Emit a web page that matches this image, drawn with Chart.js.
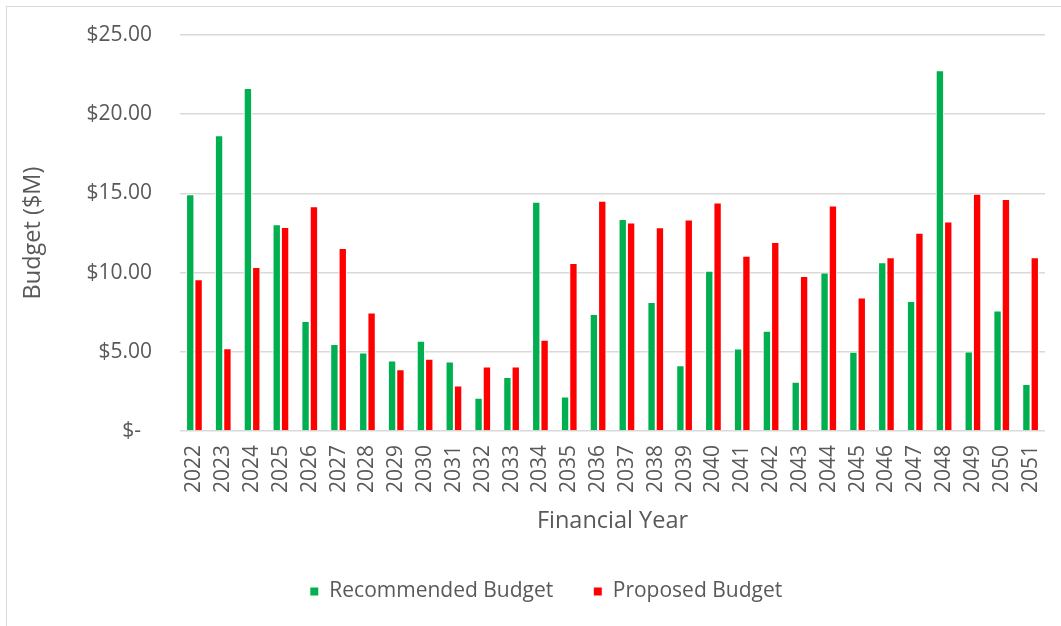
<!DOCTYPE html>
<html>
<head>
<meta charset="utf-8">
<script src="https://cdn.jsdelivr.net/npm/chart.js@4"></script>
<style>
    html, body { margin: 0; padding: 0; background: #fff; overflow: hidden; }
    #frame {
        position: absolute; left: 6px; top: 6px; width: 1100px; height: 700px;
        border-left: 1px solid #d9d9d9; border-top: 1px solid #d9d9d9;
    }
    #wrap { position: absolute; left: 0; top: 0; width: 1078px; height: 619px; }
</style>
</head>
<body>
<div id="frame"><div id="wrap"><canvas id="budget-chart"></canvas></div></div>
<script>
const years = ['2022', '2023', '2024', '2025', '2026', '2027', '2028', '2029', '2030', '2031',
    '2032', '2033', '2034', '2035', '2036', '2037', '2038', '2039', '2040', '2041',
    '2042', '2043', '2044', '2045', '2046', '2047', '2048', '2049', '2050', '2051'];
const recommended = [14.94, 18.67, 21.65, 13.05, 6.95, 5.49, 4.96, 4.45, 5.70, 4.39,
    2.10, 3.41, 14.47, 2.18, 7.39, 13.39, 8.14, 4.15, 10.11, 5.21,
    6.33, 3.11, 10.00, 5.00, 10.66, 8.20, 22.78, 5.02, 7.61, 2.97];
const proposed = [9.58, 5.23, 10.36, 12.88, 14.19, 11.55, 7.48, 3.90, 4.56, 2.88,
    4.07, 4.07, 5.76, 10.61, 14.53, 13.16, 12.86, 13.35, 14.43, 11.06,
    11.93, 9.79, 14.24, 8.43, 10.97, 12.52, 13.22, 14.98, 14.64, 10.97];
const yTicks = [0, 5, 10, 15, 20, 25];

const textColor = '#595959';
const fontFamily = "'Open Sans', sans-serif";

new Chart(document.getElementById('budget-chart'), {
    type: 'bar',
    data: {
        labels: years,
        datasets: [
            {
                label: 'Recommended Budget',
                data: recommended,
                backgroundColor: '#00b050',
                borderColor: '#ffffff',
                borderWidth: 1
            },
            {
                label: 'Proposed Budget',
                data: proposed,
                backgroundColor: '#ff0000',
                borderColor: '#ffffff',
                borderWidth: 1
            }
        ]
    },
    options: {
        responsive: true,
        maintainAspectRatio: false,
        animation: false,
        categoryPercentage: 0.58,
        barPercentage: 1.0,
        layout: { padding: { top: 28, left: 0, right: 0, bottom: 14 } },
        plugins: {
            tooltip: { enabled: false },
            legend: {
                position: 'bottom',
                labels: {
                    boxWidth: 9,
                    boxHeight: 9,
                    padding: 40,
                    color: textColor,
                    font: { family: fontFamily, size: 21 }
                }
            }
        },
        scales: {
            x: {
                grid: { display: false, drawTicks: false },
                border: { display: false },
                ticks: {
                    color: textColor,
                    font: { family: fontFamily, size: 21 },
                    minRotation: 90,
                    maxRotation: 90,
                    padding: 14,
                    autoSkip: false
                },
                title: {
                    display: true,
                    text: 'Financial Year',
                    color: textColor,
                    font: { family: fontFamily, size: 23.5 },
                    padding: { top: 0, bottom: 6 }
                },
                afterFit: function (scale) {
                    // fixed axis band, extra right room shifts the legend centre like the original
                    scale.height = 110;
                    scale.paddingTop = 0;
                    scale.paddingBottom = 0;
                    scale.paddingRight = 40;
                }
            },
            y: {
                min: 0,
                max: 25,
                grid: { color: '#d9d9d9', lineWidth: 1.5, drawTicks: false },
                border: { display: false },
                afterBuildTicks: function (scale) {
                    scale.ticks = yTicks.map(v => ({ value: v }));
                },
                ticks: {
                    color: textColor,
                    font: { family: fontFamily, size: 21 },
                    padding: 28,
                    callback: function (value) {
                        return value === 0 ? '$-  ' : '$' + value.toFixed(2);
                    }
                },
                title: {
                    display: true,
                    text: 'Budget ($M)',
                    color: textColor,
                    font: { family: fontFamily, size: 23.5 },
                    padding: { top: 12, bottom: 0 }
                },
                afterFit: function (scale) {
                    scale.width = 173;
                    scale.paddingTop = 0;
                    scale.paddingBottom = 0;
                }
            }
        }
    }
});
</script>
</body>
</html>
